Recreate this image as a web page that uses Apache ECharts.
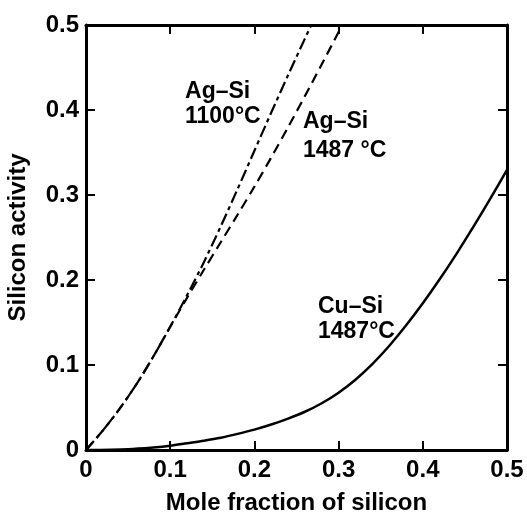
<!DOCTYPE html>
<html>
<head>
<meta charset="utf-8">
<script src="https://cdn.jsdelivr.net/npm/echarts@6/dist/echarts.min.js"></script>
<style>
  html, body { margin: 0; padding: 0; background: #fff; }
  #chart { width: 527px; height: 515px; }
</style>
</head>
<body>
<div id="chart"></div>
<script>
// mole fraction of silicon -> silicon activity
const agSi1100X = [0, 0.02, 0.04, 0.06, 0.08, 0.10, 0.12, 0.14, 0.16, 0.18, 0.20, 0.22, 0.24, 0.26, 0.2675];
const agSi1100Y = [0, 0.023, 0.0486, 0.0776, 0.110, 0.145, 0.182, 0.221, 0.263, 0.307, 0.352, 0.397, 0.441, 0.484, 0.5];

const agSi1487X = [0, 0.02, 0.04, 0.06, 0.08, 0.10, 0.12, 0.14, 0.16, 0.18, 0.20, 0.22, 0.24, 0.26, 0.28, 0.30, 0.3043];
const agSi1487Y = [0, 0.023, 0.0486, 0.0776, 0.110, 0.145, 0.179, 0.212, 0.2444, 0.2768, 0.3098, 0.3442, 0.3798, 0.4164, 0.4538, 0.4918, 0.5];

const cuSiX = [0, 0.05, 0.08, 0.10, 0.12, 0.14, 0.16, 0.18, 0.20, 0.22, 0.24, 0.26, 0.28, 0.30, 0.32, 0.34, 0.36, 0.38, 0.40, 0.42, 0.44, 0.46, 0.48, 0.50];
const cuSiY = [0, 0.001, 0.003, 0.005, 0.008, 0.011, 0.0145, 0.019, 0.024, 0.030, 0.037, 0.045, 0.055, 0.0674, 0.0826, 0.101, 0.1224, 0.1464, 0.1726, 0.2008, 0.2308, 0.2624, 0.2954, 0.3296];

const xTicks = ['0', '0.1', '0.2', '0.3', '0.4', '0.5'];
const yTicks = ['0', '0.1', '0.2', '0.3', '0.4', '0.5'];

// curve labels: [text, x, y, line height] in data units (top-left of the text block)
const curveLabels = [
  ['Ag\u2013Si\n1100\u00b0C', 0.1176, 0.4365, 25],
  ['Ag\u2013Si\n1487 \u00b0C', 0.2577, 0.4035, 29],
  ['Cu\u2013Si\n1487\u00b0C', 0.2755, 0.1835, 25]
];

const font = "'Liberation Sans', Arial, sans-serif";
const zip = (xs, ys) => xs.map((x, i) => [x, ys[i]]);

const chart = echarts.init(document.getElementById('chart'));

const axisBase = {
  type: 'value',
  min: 0,
  max: 0.5,
  interval: 0.1,
  splitLine: { show: false },
  axisLine: { show: true, onZero: false, lineStyle: { color: '#000', width: 3 } },
  axisTick: { show: true, inside: true, length: 9, lineStyle: { color: '#000', width: 2 } }
};

chart.setOption({
  animation: false,
  grid: { left: 86, top: 25, right: 20, bottom: 65, outerBoundsMode: 'none' },
  xAxis: [
    {
      ...axisBase,
      position: 'bottom',
      name: 'Mole fraction of silicon',
      nameLocation: 'middle',
      nameGap: 41,
      nameTextStyle: { color: '#000', fontSize: 24, fontWeight: 'bold', fontFamily: font },
      axisLabel: {
        color: '#000', fontSize: 24, fontWeight: 'bold', fontFamily: font, margin: 8,
        formatter: v => xTicks[Math.round(v * 10)]
      }
    },
    { ...axisBase, position: 'top', axisLabel: { show: false } }
  ],
  yAxis: [
    {
      ...axisBase,
      position: 'left',
      name: 'Silicon activity',
      nameLocation: 'middle',
      nameGap: 56,
      nameTextStyle: { color: '#000', fontSize: 24, fontWeight: 'bold', fontFamily: font },
      axisLabel: {
        color: '#000', fontSize: 24, fontWeight: 'bold', fontFamily: font, margin: 7,
        formatter: v => yTicks[Math.round(v * 10)]
      }
    },
    { ...axisBase, position: 'right', axisLabel: { show: false } }
  ],
  series: [
    { name: 'Ag-Si 1100', data: zip(agSi1100X, agSi1100Y), lineStyle: { type: [12, 4, 4, 4], width: 2.2 } },
    { name: 'Ag-Si 1487', data: zip(agSi1487X, agSi1487Y), lineStyle: { type: [10, 6], width: 2.2 } },
    { name: 'Cu-Si 1487', data: zip(cuSiX, cuSiY), lineStyle: { type: 'solid', width: 2.5 } }
  ].map(s => ({
    ...s,
    type: 'line',
    showSymbol: false,
    smooth: 0.3,
    lineStyle: { color: '#000', ...s.lineStyle }
  }))
});

chart.setOption({
  graphic: curveLabels.map(([text, x, y, lh]) => {
    const [px, py] = chart.convertToPixel({ xAxisIndex: 0, yAxisIndex: 0 }, [x, y]);
    return {
      type: 'text',
      x: px,
      y: py,
      style: { text, fill: '#000', font: `bold 23px ${font}`, lineHeight: lh }
    };
  })
});
</script>
</body>
</html>
